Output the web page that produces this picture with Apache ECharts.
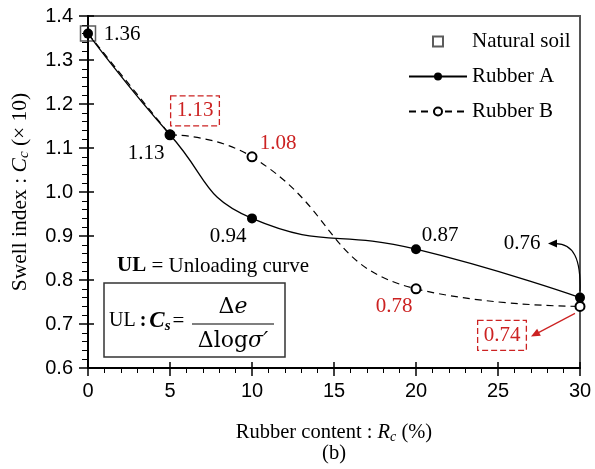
<!DOCTYPE html>
<html>
<head>
<meta charset="utf-8">
<script src="https://cdn.jsdelivr.net/npm/echarts@6/dist/echarts.min.js"></script>
<style>
  html, body { margin: 0; padding: 0; background: #fff; }
  #chart { width: 595px; height: 469px; }
</style>
</head>
<body>
<div id="chart"></div>
<script>
// Swell index versus rubber content
const rubberContent = [0, 5, 10, 20, 30];
const naturalSoil = [1.36];                      // untreated soil, at 0 %
const rubberA = [1.36, 1.13, 0.94, 0.87, 0.76];
const rubberB = [1.36, 1.13, 1.08, 0.78, 0.74];
const xTicks = [0, 5, 10, 15, 20, 25, 30];
const yTicks = [0.6, 0.7, 0.8, 0.9, 1.0, 1.1, 1.2, 1.3, 1.4];

const SERIF = 'Liberation Serif';
const SANS = 'Liberation Sans';
const MATH = 'DejaVu Serif';
const RED = '#cc2222';

// Where each value label sits relative to its point (pixels), and whether it is boxed
const labelPlaceA = [
  { dx: 34, dy: 1 }, { dx: -24, dy: 19 }, { dx: -24, dy: 18 },
  { dx: 24, dy: -14 }, { dx: -58, dy: -54 }
];
const labelPlaceB = [
  null, { dx: 25, dy: -24, boxed: true }, { dx: 26, dy: -13 },
  { dx: -22, dy: 18 }, { dx: -78, dy: 29, boxed: true }
];

function labelFor(v, place, color) {
  if (!place) return { show: false };
  const lab = {
    show: true,
    position: 'inside',
    offset: [place.dx, place.dy],
    formatter: v.toFixed(2),
    fontFamily: SERIF,
    fontSize: 21,
    color: color
  };
  if (place.boxed) {
    Object.assign(lab, {
      padding: [5, 6, 4, 6],
      borderColor: color,
      borderWidth: 1.3,
      borderType: [6, 3]
    });
  }
  return lab;
}

function pointsOf(values, places, color, from, to) {
  const out = [];
  const end = to === undefined ? values.length : to;
  for (let i = from; i < end; i++) {
    out.push({
      value: [rubberContent[i], values[i]],
      label: labelFor(values[i], places ? places[i] : null, color)
    });
  }
  return out;
}

const chart = echarts.init(document.getElementById('chart'), null, { renderer: 'canvas' });

const axisFont = { fontFamily: SANS, fontSize: 20, color: '#000' };
function titleRich(size) {
  return {
    t: { fontFamily: SERIF, fontSize: size, color: '#000' },
    i: { fontFamily: SERIF, fontSize: size, fontStyle: 'italic', color: '#000' },
    s: { fontFamily: SERIF, fontSize: Math.round(size * 0.68), fontStyle: 'italic', color: '#000', padding: [9, 0, 0, 0] }
  };
}

const option = {
  animation: false,
  backgroundColor: '#fff',
  grid: {
    left: 88, right: 15, top: 16, bottom: 94,
    show: true, borderColor: '#555', borderWidth: 2, backgroundColor: 'transparent'
  },
  legend: {
    data: [
      { name: 'Natural soil', icon: 'path://M0 0H10V10H0Z' },
      'Rubber A',
      'Rubber B'
    ],
    orient: 'vertical',
    left: 408, top: 31,
    padding: 0,
    itemWidth: 58, itemHeight: 10, itemGap: 14,
    symbolKeepAspect: true,
    textStyle: { fontFamily: SERIF, fontSize: 21, color: '#000' }
  },
  xAxis: [
    {
      type: 'value', min: xTicks[0], max: xTicks[xTicks.length - 1], interval: 5,
      axisLine: { lineStyle: { color: '#000', width: 2 } },
      axisTick: { length: 8, lineStyle: { color: '#000', width: 1.5 } },
      minorTick: { show: true, splitNumber: 5, length: 5, lineStyle: { color: '#000', width: 1 } },
      splitLine: { show: false },
      axisLabel: Object.assign({ margin: 13 }, axisFont),
      name: '{t|Rubber content : }{i|R}{s|c}{t| (%)}\n{t|(b)}',
      nameLocation: 'middle', nameGap: 54,
      nameTextStyle: { lineHeight: 21, rich: titleRich(20.5) }
    },
    {
      type: 'value', min: xTicks[0], max: xTicks[xTicks.length - 1], interval: 5,
      position: 'bottom',
      axisLine: { show: false },
      axisTick: { inside: true, length: 6, lineStyle: { color: '#000', width: 1.5 } },
      axisLabel: { show: false }, splitLine: { show: false }
    }
  ],
  yAxis: [
    {
      type: 'value', min: yTicks[0], max: yTicks[yTicks.length - 1], interval: 0.1,
      axisLine: { show: true, lineStyle: { color: '#000', width: 2 } },
      axisTick: { show: true, length: 9, lineStyle: { color: '#000', width: 1.5 } },
      minorTick: { show: true, splitNumber: 5, length: 6, lineStyle: { color: '#000', width: 1 } },
      splitLine: { show: false },
      axisLabel: Object.assign({ margin: 15, formatter: v => v.toFixed(1) }, axisFont),
      name: '{t|Swell index : }{i|C}{s|c}{t| (× 10)}',
      nameLocation: 'middle', nameGap: 56, nameRotate: 90,
      nameTextStyle: { rich: titleRich(21.5) }
    },
    {
      type: 'value', min: yTicks[0], max: yTicks[yTicks.length - 1], interval: 0.1,
      position: 'left',
      axisLine: { show: false },
      axisTick: { show: true, inside: true, length: 6, lineStyle: { color: '#000', width: 1.5 } },
      axisLabel: { show: false }, splitLine: { show: false }
    }
  ],
  series: [
    {
      name: 'Natural soil', type: 'scatter',
      symbol: 'rect', symbolSize: 15,
      itemStyle: { color: 'rgba(0,0,0,0)', borderColor: '#333', borderWidth: 1.5 },
      data: naturalSoil.map(v => [rubberContent[0], v]),
      z: 2
    },
    {
      name: 'Rubber B', type: 'line', smooth: 0.5,
      symbol: 'emptyCircle', symbolSize: 9, clip: false,
      itemStyle: { color: '#000', borderWidth: 1.2 },
      lineStyle: { color: '#000', width: 1.2, type: [7, 5] },
      data: pointsOf(rubberB, labelPlaceB, RED, 1),
      z: 3
    },
    {
      // straight leg of Rubber B from the natural soil to 5 %
      name: 'Rubber B', type: 'line', smooth: false,
      symbol: 'none', clip: false,
      itemStyle: { color: '#000' },
      lineStyle: { color: '#000', width: 1.2, type: [7, 5] },
      data: pointsOf(rubberB, null, RED, 0, 2),
      z: 3
    },
    {
      name: 'Rubber A', type: 'line', smooth: 0.5,
      symbol: 'circle', symbolSize: 10, clip: false,
      itemStyle: { color: '#000' },
      lineStyle: { color: '#000', width: 1.3 },
      data: pointsOf(rubberA, labelPlaceA, '#000', 0),
      z: 4
    }
  ]
};

chart.setOption(option);

// Arrows pointing from the 30 % points to their value labels
const pA = chart.convertToPixel({ seriesIndex: 3 }, [rubberContent[4], rubberA[4]]);
const pB = chart.convertToPixel({ seriesIndex: 1 }, [rubberContent[4], rubberB[4]]);

function head(tip, dirX, dirY, len, wid, color) {
  const n = Math.hypot(dirX, dirY);
  const ux = dirX / n, uy = dirY / n;
  const bx = tip[0] - ux * len, by = tip[1] - uy * len;
  return {
    type: 'polygon',
    shape: { points: [tip, [bx - uy * wid, by + ux * wid], [bx + uy * wid, by - ux * wid]] },
    style: { fill: color }, z: 10
  };
}

const tipA = [pA[0] - 32, pA[1] - 54];
const tipB = [pB[0] - 49, pB[1] + 30];
const startB = [pB[0] - 5, pB[1] + 7];

chart.setOption({
  graphic: [
    {
      type: 'bezierCurve',
      shape: {
        x1: pA[0], y1: pA[1] - 6,
        cpx1: pA[0] + 1, cpy1: pA[1] - 38,
        cpx2: pA[0] - 6, cpy2: tipA[1] - 1,
        x2: tipA[0] + 6, y2: tipA[1]
      },
      style: { stroke: '#000', lineWidth: 1.2, fill: 'none' }, z: 10
    },
    head(tipA, -1, 0, 9, 4, '#000'),
    {
      type: 'line',
      shape: { x1: startB[0], y1: startB[1], x2: tipB[0] + 6, y2: tipB[1] - 3 },
      style: { stroke: RED, lineWidth: 1.2 }, z: 10
    },
    head(tipB, tipB[0] - startB[0], tipB[1] - startB[1], 9, 4, RED),
    {
      type: 'text', x: 117, y: 266,
      style: {
        text: '{b|UL} = Unloading curve',
        fontFamily: SERIF, fontSize: 21, fill: '#000', verticalAlign: 'middle',
        rich: { b: { fontFamily: SERIF, fontSize: 21, fontWeight: 'bold', fill: '#000' } }
      }, z: 10
    },
    {
      type: 'rect',
      shape: { x: 104, y: 283, width: 181, height: 74 },
      style: { fill: '#fff', stroke: '#333', lineWidth: 1.5 }, z: 9
    },
    {
      type: 'text', x: 109, y: 321,
      style: {
        text: '{u|UL}{k|:}{c|C}{s|s}{q|=}',
        fontFamily: SERIF, fontSize: 20, fill: '#000', verticalAlign: 'middle',
        rich: {
          u: { fontFamily: SERIF, fontSize: 20, fill: '#000' },
          k: { fontFamily: SERIF, fontSize: 20, fontWeight: 'bold', fill: '#000', padding: [0, 3, 0, 4] },
          c: { fontFamily: SERIF, fontSize: 23, fontWeight: 'bold', fontStyle: 'italic', fill: '#000' },
          s: { fontFamily: SERIF, fontSize: 15, fontWeight: 'bold', fontStyle: 'italic', fill: '#000', padding: [10, 0, 0, 0] },
          q: { fontFamily: SERIF, fontSize: 21, fill: '#000', padding: [0, 0, 0, 2] }
        }
      }, z: 10
    },
    {
      type: 'text', x: 233, y: 307,
      style: {
        text: 'Δ{e|e}', fontFamily: MATH, fontSize: 22, fill: '#000',
        align: 'center', verticalAlign: 'middle',
        rich: { e: { fontFamily: MATH, fontSize: 22, fontStyle: 'italic', fill: '#000' } }
      }, z: 10
    },
    {
      type: 'line', shape: { x1: 192, y1: 324, x2: 274, y2: 324 },
      style: { stroke: '#000', lineWidth: 1.2 }, z: 10
    },
    {
      type: 'text', x: 233, y: 341,
      style: {
        text: 'Δlog{e|σ′}', fontFamily: MATH, fontSize: 22, fill: '#000',
        align: 'center', verticalAlign: 'middle',
        rich: { e: { fontFamily: MATH, fontSize: 22, fontStyle: 'italic', fill: '#000' } }
      }, z: 10
    }
  ]
});
</script>
</body>
</html>
